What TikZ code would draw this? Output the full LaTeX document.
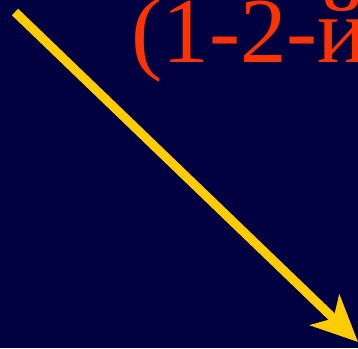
\documentclass[tikz,border=0pt]{standalone}
\usepackage{fontspec}
\setmainfont{Liberation Serif}
\usetikzlibrary{arrows.meta}
\definecolor{bgnavy}{HTML}{000040}
\definecolor{arrowyellow}{HTML}{FFCC00}
\definecolor{titlered}{HTML}{FF3300}
\tikzset{
  bigarrow/.style={draw=arrowyellow, line width=9pt, -{Stealth[length=46pt, width=42pt, inset=12pt]}},
  titletext/.style={text=titlered, font=\fontsize{93}{93}\selectfont, inner sep=0pt, anchor=base west}
}
\begin{document}
\begin{tikzpicture}[x=1pt,y=1pt]
\useasboundingbox (0,0) rectangle (358,348);
\clip (0,0) rectangle (358,348);
\fill[bgnavy] (0,0) rectangle (358,348);
\node[titletext] (title) at (131.5,285) {(1-2-й};
\coordinate (s) at (15,336);
\coordinate (e) at (358,6);
\draw[bigarrow] (s) -- (e);
\end{tikzpicture}
\end{document}
